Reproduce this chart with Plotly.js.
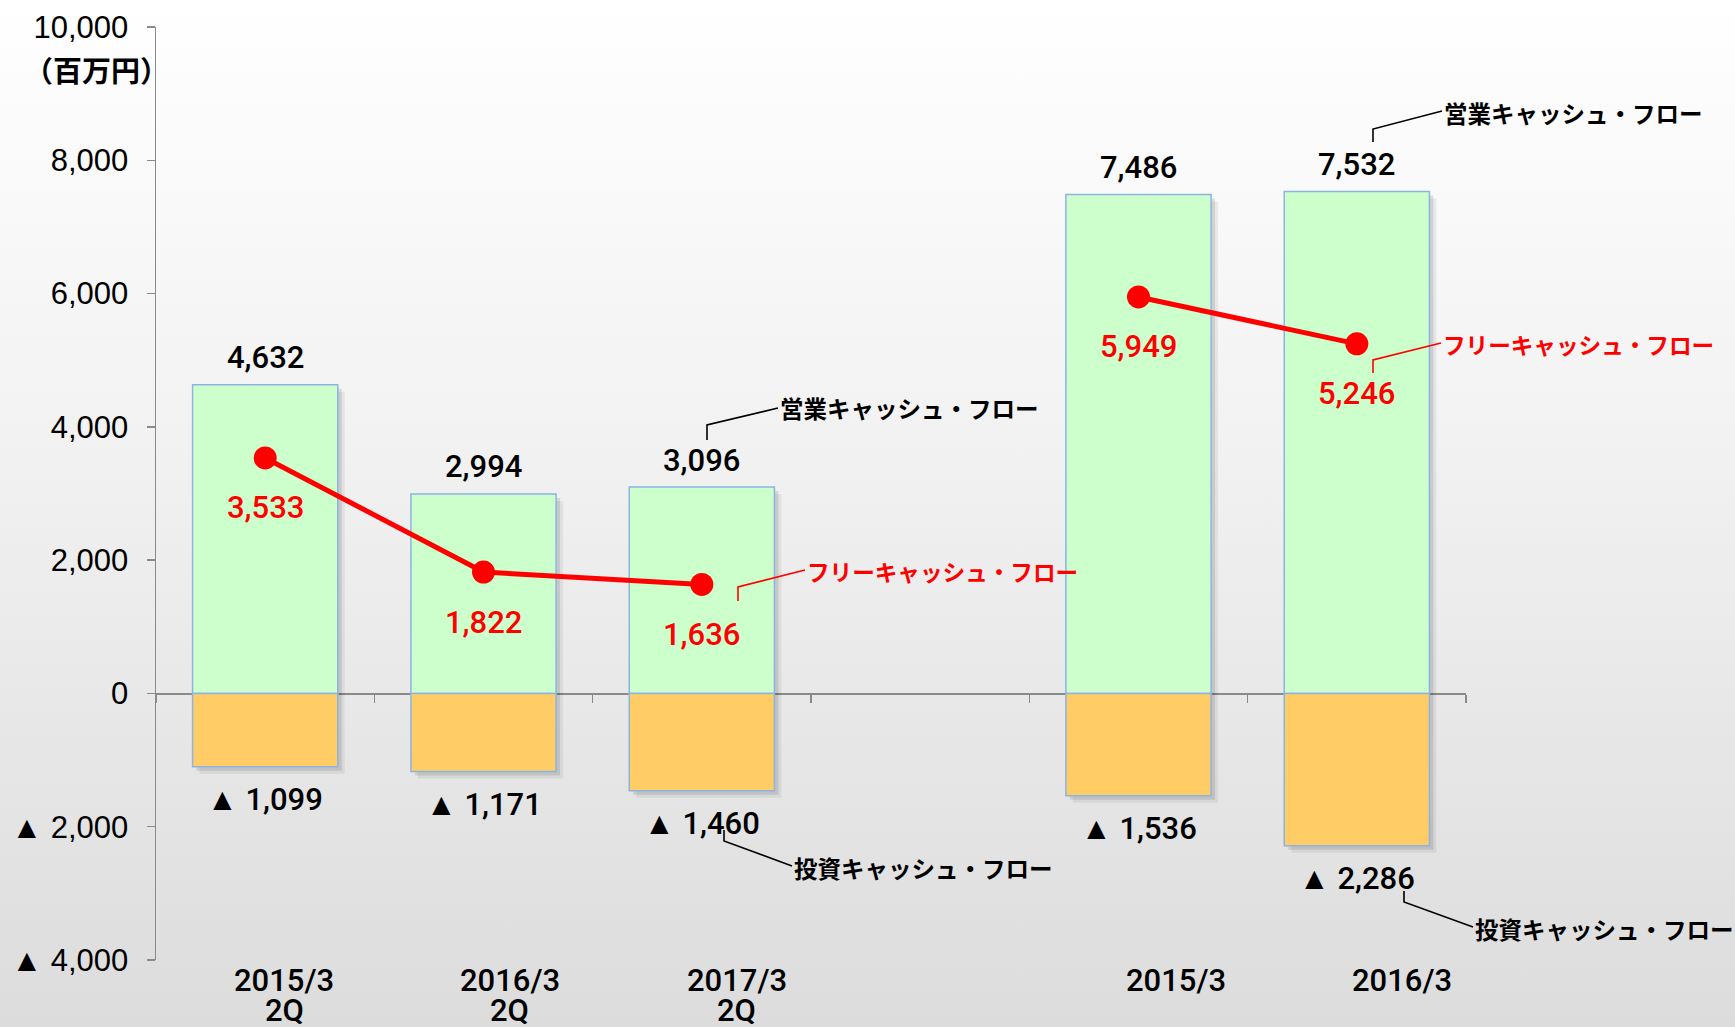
<!DOCTYPE html>
<html>
<head>
<meta charset="utf-8">
<script src="https://cdn.plot.ly/plotly-3.0.1.min.js"></script>
<style>
html, body { margin: 0; padding: 0; }
#chart { width: 1735px; height: 1027px; background: linear-gradient(to bottom, #ffffff 0%, #f1f1f1 45%, #dcdcdc 100%); }
</style>
</head>
<body>
<div id="chart"></div>
<script>
// ---------- data ----------
const categories = ['2015/3 2Q', '2016/3 2Q', '2017/3 2Q', '2015/3', '2016/3'];
const catLine1 = ['2015/3', '2016/3', '2017/3', '2015/3', '2016/3'];
const catLine2 = ['2Q', '2Q', '2Q', '', ''];
const operatingCF = [4632, 2994, 3096, 7486, 7532];
const investingCF = [-1099, -1171, -1460, -1536, -2286];
const freeCF = [3533, 1822, 1636, 5949, 5246];
const halfYearCount = 3; // first three categories are 2Q (half-year) figures, last two are full-year
const yTickVals = [10000, 8000, 6000, 4000, 2000, 0, -2000, -4000];
const yTickText = ['10,000', '8,000', '6,000', '4,000', '2,000', '0', '▲ 2,000', '▲ 4,000'];
const unitLabel = '（百万円）';
const seriesNames = ['営業キャッシュ・フロー', '投資キャッシュ・フロー', 'フリーキャッシュ・フロー'];

// ---------- layout constants ----------
const W = 1735, H = 1027;
const M = { l: 156, r: 269, t: 27, b: 67 };
const PW = W - M.l - M.r, PH = H - M.t - M.b;
const px = x => (x - M.l) / PW;
const py = y => (H - M.b - y) / PH;
const Y0 = -4000, Y1 = 10000;
const axisOrder = [categories[0], categories[1], categories[2], ' ', categories[3], categories[4]];
const idx = c => axisOrder.indexOf(c);
const barW = 0.665;
const numFont = 'Liberation Sans, Arial, sans-serif';
const lblFont = 'Roboto, Liberation Sans, Arial, sans-serif';
const cjkFont = 'Noto Sans CJK JP, sans-serif';
const gray = '#8a8a8a';
const fmt = v => (v < 0 ? '▲ ' : '') + Math.abs(v).toLocaleString('en-US');

// shadow helpers (pixel offsets converted to data units)
const unitX = 6 / PW, unitY = (Y1 - Y0) / PH;
function shadowTrace(vals, dpx, alpha) {
  return {
    type: 'bar', x: categories, y: vals, base: vals.map(() => -dpx * unitY),
    width: barW, offset: -barW / 2 + dpx * unitX,
    marker: { color: 'rgba(0,0,0,' + alpha + ')', line: { width: 0 } },
    hoverinfo: 'skip', showlegend: false
  };
}
function fcfLine(from, to) {
  return {
    type: 'scatter', mode: 'lines+markers', name: seriesNames[2],
    x: categories.slice(from, to), y: freeCF.slice(from, to),
    line: { color: '#ff0000', width: 5 },
    marker: { color: '#ff0000', size: 23 }
  };
}

const traces = [
  shadowTrace(operatingCF, 7, 0.06), shadowTrace(investingCF, 7, 0.06),
  shadowTrace(operatingCF, 4, 0.10), shadowTrace(investingCF, 4, 0.10),
  {
    type: 'bar', name: seriesNames[0], x: categories, y: operatingCF, width: barW,
    marker: { color: '#ccffcc', line: { color: '#8db3e2', width: 1.5 } }
  },
  {
    type: 'bar', name: seriesNames[1], x: categories, y: investingCF, width: barW,
    marker: { color: '#ffcc66', line: { color: '#8db3e2', width: 1.5 } }
  },
  fcfLine(0, halfYearCount),
  fcfLine(halfYearCount, categories.length)
];

const annotations = [];
// unit label
annotations.push({
  xref: 'paper', yref: 'paper', x: px(96), y: py(69), xanchor: 'center', yanchor: 'middle',
  text: unitLabel, showarrow: false, font: { family: cjkFont, size: 29, color: '#000', weight: 'bold' }
});
// value labels
const valFont = c => ({ family: lblFont, size: 31, color: c, weight: 500 });
categories.forEach((c, i) => {
  annotations.push({
    x: idx(c), y: operatingCF[i], xref: 'x', yref: 'y', yanchor: 'middle', yshift: 27,
    text: fmt(operatingCF[i]), showarrow: false, font: valFont('#000')
  });
  annotations.push({
    x: idx(c), y: investingCF[i], xref: 'x', yref: 'y', yanchor: 'middle', yshift: -33,
    text: fmt(investingCF[i]), showarrow: false, font: valFont('#000')
  });
  annotations.push({
    x: idx(c), y: freeCF[i], xref: 'x', yref: 'y', yanchor: 'middle', yshift: -50,
    text: fmt(freeCF[i]), showarrow: false, font: valFont('#ff0000')
  });
});
// category labels (placed as in the reference text boxes)
const catLabelNudge = [19, 26, 35, 37, 45];
const catFont = { family: lblFont, size: 31, color: '#000', weight: 500 };
categories.forEach((c, i) => {
  annotations.push({
    x: idx(c), xref: 'x', yref: 'paper', y: py(980), yanchor: 'middle', height: 28,
    xshift: catLabelNudge[i], text: catLine1[i], showarrow: false, font: catFont
  });
  if (catLine2[i]) annotations.push({
    x: idx(c), xref: 'x', yref: 'paper', y: py(1010), yanchor: 'middle', height: 28,
    xshift: catLabelNudge[i], text: catLine2[i], showarrow: false, font: catFont
  });
});

// callouts: [series index, color, size, text-left px, text-center-y px, leader path px]
const callouts = [
  [0, '#000', 23.5, 778, 408, [[707, 440], [707, 425], [778, 408]]],
  [2, '#ff0000', 22.6, 805, 571, [[738, 601], [738, 587], [805, 570]]],
  [1, '#000', 23.5, 792, 868, [[724, 830], [724, 841], [792, 866]]],
  [0, '#000', 23.5, 1442, 113, [[1373, 142], [1373, 129], [1442, 111]]],
  [2, '#ff0000', 22.6, 1441, 344, [[1373, 373], [1373, 360], [1441, 343]]],
  [1, '#000', 23.5, 1473, 929, [[1404, 891], [1404, 902], [1473, 927]]]
];
const shapes = [];
callouts.forEach(co => {
  annotations.push({
    xref: 'paper', yref: 'paper', x: px(co[3]), y: py(co[4]), xanchor: 'left', yanchor: 'middle',
    text: seriesNames[co[0]], showarrow: false,
    font: { family: cjkFont, size: co[2], color: co[1], weight: 'bold' }
  });
  const p = co[5].map((pt, k) => (k ? 'L' : 'M') + px(pt[0]).toFixed(5) + ',' + py(pt[1]).toFixed(5)).join(' ');
  shapes.push({ type: 'path', xref: 'paper', yref: 'paper', path: p, line: { color: co[1], width: 1.6 } });
});

const layout = {
  width: W, height: H,
  margin: M,
  paper_bgcolor: 'rgba(0,0,0,0)', plot_bgcolor: 'rgba(0,0,0,0)',
  barmode: 'overlay',
  showlegend: false,
  xaxis: {
    type: 'category', categoryorder: 'array', categoryarray: axisOrder, range: [-0.5, 5.5],
    anchor: 'free', position: (0 - Y0) / (Y1 - Y0),
    showline: true, linecolor: gray, linewidth: 1.5,
    ticks: 'outside', tickson: 'boundaries', ticklen: 8, tickwidth: 1.5, tickcolor: gray,
    showticklabels: false, showgrid: false, zeroline: false, layer: 'below traces', fixedrange: true
  },
  yaxis: {
    range: [Y0, Y1], tickmode: 'array', tickvals: yTickVals, ticktext: yTickText,
    showline: true, linecolor: gray, linewidth: 1.5,
    ticks: 'outside', ticklen: 8, tickwidth: 1.5, tickcolor: gray, ticklabelstandoff: 12,
    tickfont: { family: numFont, size: 31, color: '#000' },
    showgrid: false, zeroline: false, fixedrange: true
  },
  annotations: annotations,
  shapes: shapes
};

Plotly.newPlot('chart', traces, layout, { displayModeBar: false, staticPlot: true });
</script>
</body>
</html>
